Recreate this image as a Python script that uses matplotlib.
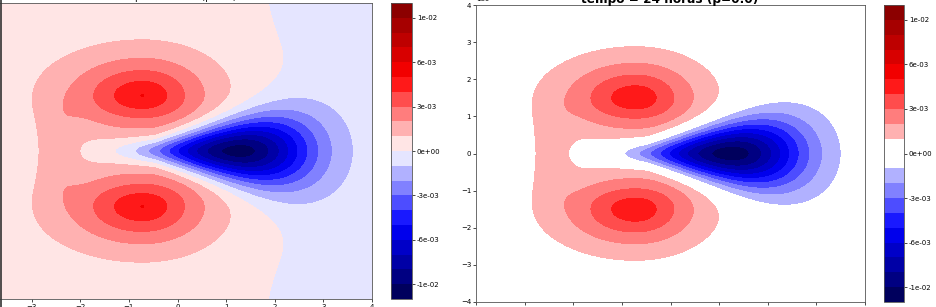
import numpy as np
import matplotlib
matplotlib.use("Agg")
import matplotlib.pyplot as plt
from matplotlib.colors import ListedColormap
from matplotlib.lines import Line2D

# values in units of 1e6 m, amplitudes in units of vmax
vmax = 0.0107
n_bands = 20

# red pair (two lobes mirrored in y)
red_center = [-0.72, 1.5]
red_amp = 0.48
red_Lx = [1.5, 1.3]       # west, east
red_Ly = [0.88, 1.02]     # towards equator, poleward
red_p = 1.5

# western arc joining the red lobes
arc_center = [-2.45, 0.0]
arc_amp = 0.115
arc_sigma = [0.3, 0.8]

# blue teardrop
blue_center = [1.2, 0.0]
blue_amp = -0.99
blue_sx = [1.2, 1.08]     # west, east
blue_sy = 0.56
blue_sy_slope = 0.19
blue_sy_min = 0.24

# weak background of the left panel (positive west, negative east)
bg_amp = 0.02
bg_x0 = 1.8
bg_width = 0.8

titles = ["tempo = 24 horas (β=1.0)", "tempo = 24 horas (β=0.0)"]


def field(X, Y, background):
    Z = np.zeros_like(X)
    for yc in (red_center[1], -red_center[1]):
        Lx = np.where(X < red_center[0], red_Lx[0], red_Lx[1])
        w = 0.5 * (1 + np.tanh((np.abs(Y) - abs(yc)) / 0.4))
        Ly = red_Ly[0] + (red_Ly[1] - red_Ly[0]) * w
        r2 = ((X - red_center[0]) / Lx) ** 2 + ((Y - yc) / Ly) ** 2
        Z += red_amp * np.exp(-r2 ** (red_p / 2))
    Z += arc_amp * np.exp(-(X - arc_center[0]) ** 2 / (2 * arc_sigma[0] ** 2)
                          - (Y - arc_center[1]) ** 2 / (2 * arc_sigma[1] ** 2))
    sx = np.where(X < blue_center[0], blue_sx[0], blue_sx[1])
    sy = np.clip(blue_sy + blue_sy_slope * (X - blue_center[0]), blue_sy_min, None)
    Z += blue_amp * np.exp(-(X - blue_center[0]) ** 2 / (2 * sx ** 2)
                           - (Y - blue_center[1]) ** 2 / (2 * sy ** 2))
    if background:
        Z += -bg_amp * np.tanh((X - bg_x0) / bg_width)
    return Z * vmax


x = np.linspace(-4, 4, 400)
y = np.linspace(-4, 4, 400)
X, Y = np.meshgrid(x, y)

levels = np.linspace(-vmax, vmax, n_bands + 1)
cticks = np.arange(-9, 10, 3) * vmax / 10

base = plt.get_cmap("seismic")(np.linspace(0.5 / n_bands, 1 - 0.5 / n_bands, n_bands))
white_mid = base.copy()
white_mid[n_bands // 2 - 1] = [1, 1, 1, 1]
white_mid[n_bands // 2] = [1, 1, 1, 1]
cmaps = [ListedColormap(base), ListedColormap(white_mid)]

W, H = 936, 307
fig = plt.figure(figsize=(W / 100, H / 100), dpi=100)

# pixel boxes: (left, top, right, bottom)
ax_boxes = [(-17, 3, 372, 299), (476, 5, 865, 302)]
cb_boxes = [(391, 3, 412, 299), (884, 5, 904, 302)]
title_x = [177, 670]


def frac(b):
    l, t, r, bt = b
    return [l / W, (H - bt) / H, (r - l) / W, (bt - t) / H]


for i in range(2):
    ax = fig.add_axes(frac(ax_boxes[i]))
    Z = field(X, Y, background=(i == 0))
    cs = ax.contourf(X * 1e6, Y * 1e6, Z, levels=levels, cmap=cmaps[i],
                     vmin=-vmax, vmax=vmax)
    ax.set_xlim(-4e6, 4e6)
    ax.set_ylim(-4e6, 4e6)
    ax.set_xticks(np.arange(-4, 5) * 1e6)
    ax.set_yticks(np.arange(-4, 5) * 1e6)
    ax.tick_params(labelsize=5, length=2, width=0.5, pad=1.5)
    ax.yaxis.get_offset_text().set_fontsize(5)
    for s in ax.spines.values():
        s.set_linewidth(0.6)
        s.set_color("#555555")

    cax = fig.add_axes(frac(cb_boxes[i]))
    cb = fig.colorbar(cs, cax=cax, ticks=cticks, format="%.0e")
    cb.outline.set_linewidth(0.6)
    cb.outline.set_edgecolor("#555555")
    cax.tick_params(labelsize=5, length=2, width=0.5, pad=1.5)

# titles sit mostly above the cropped top edge
fig.text(title_x[0] / W, 1 + 0.5 / H, titles[0], ha="center", va="baseline",
         fontsize=6.5)
fig.text(title_x[1] / W, 1 - 3 / H, titles[1], ha="center", va="baseline",
         fontsize=8.7, fontweight="bold")

# dark edge left of the cropped first panel
fig.add_artist(Line2D([0.6 / W, 0.6 / W], [0, 1], color="#333333", lw=1.2))

fig.savefig("out.png", dpi=100)
